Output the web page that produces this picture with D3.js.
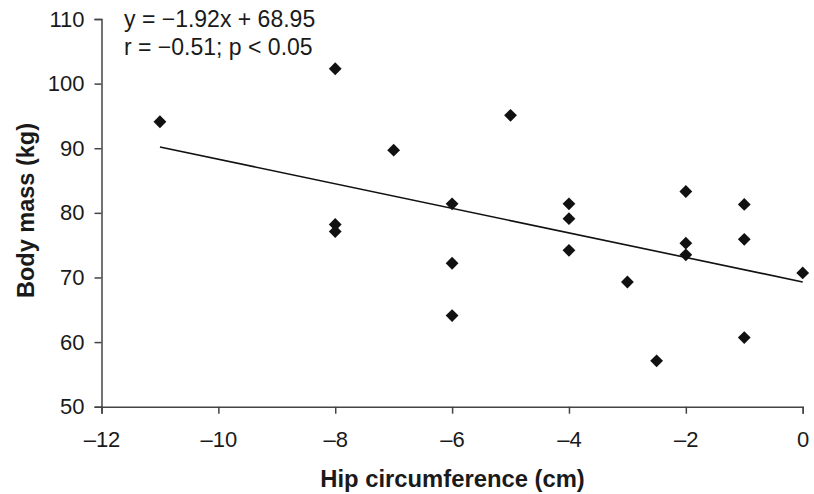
<!DOCTYPE html>
<html>
<head>
<meta charset="utf-8">
<script src="https://cdn.jsdelivr.net/npm/d3@7/dist/d3.min.js"></script>
<style>
  html, body { margin: 0; padding: 0; background: #fff; }
  svg { display: block; }
  text { font-family: "Liberation Sans", Arial, Helvetica, sans-serif; fill: #1a1a1a; }
</style>
</head>
<body>
<script>
// Data
const hipChange = [-11, -8, -8, -8, -7, -6, -6, -6, -5, -4, -4, -4, -3, -2.5, -2, -2, -2, -1, -1, -1, 0];
const bodyMass  = [94.1, 102.3, 78.2, 77.1, 89.7, 81.4, 72.2, 64.1, 95.1, 81.4, 79.1, 74.2, 69.3, 57.1, 83.3, 75.3, 73.5, 81.3, 75.9, 60.7, 70.7];
const trendX = [-11, 0];
const trendY = [90.2, 69.3];
const xTicks = [-12, -10, -8, -6, -4, -2, 0];
const yTicks = [50, 60, 70, 80, 90, 100, 110];
const annotation = ["y = \u22121.92x + 68.95", "r = \u22120.51; p < 0.05"];
const xTitle = "Hip circumference (cm)";
const yTitle = "Body mass (kg)";

const W = 814, H = 494;
const svg = d3.select("body").append("svg").attr("width", W).attr("height", H);

const x = d3.scaleLinear().domain([-12, 0]).range([101.5, 802.7]);
const y = d3.scaleLinear().domain([50, 110]).range([406.7, 19]);

const axisColor = "#444";
const tickFont = "22px";

// X axis
const gx = svg.append("g").attr("transform", `translate(0,${y(50)})`)
  .call(d3.axisBottom(x).tickValues(xTicks).tickSize(7).tickPadding(4)
    .tickFormat(d => d === 0 ? "0" : "\u2013" + Math.abs(d)));
gx.select(".domain").attr("stroke", axisColor).attr("stroke-width", 1.5);
gx.selectAll(".tick line").attr("stroke", axisColor).attr("stroke-width", 1.5);
gx.selectAll(".tick text").attr("font-size", tickFont).attr("fill", "#1a1a1a")
  .style("font-family", "'Liberation Sans', Arial, sans-serif").attr("dy", "0.71em").attr("y", 24.5);

// Y axis
const gy = svg.append("g").attr("transform", `translate(${x(-12)},0)`)
  .call(d3.axisLeft(y).tickValues(yTicks).tickSize(7).tickPadding(10).tickFormat(d3.format("d")));
gy.select(".domain").attr("stroke", axisColor).attr("stroke-width", 1.5);
gy.selectAll(".tick line").attr("stroke", axisColor).attr("stroke-width", 1.5);
gy.selectAll(".tick text").attr("font-size", tickFont).attr("fill", "#1a1a1a")
  .style("font-family", "'Liberation Sans', Arial, sans-serif");

// Trend line
svg.append("path")
  .datum(trendX.map((d, i) => [d, trendY[i]]))
  .attr("d", d3.line().x(d => x(d[0])).y(d => y(d[1])))
  .attr("fill", "none").attr("stroke", "#111").attr("stroke-width", 1.6);

// Points (diamonds)
const diamond = d3.symbol().type(d3.symbolSquare).size(82);
svg.append("g").selectAll("path")
  .data(hipChange.map((d, i) => [d, bodyMass[i]]))
  .join("path")
  .attr("d", diamond)
  .attr("transform", d => `translate(${x(d[0])},${y(d[1])}) rotate(45)`)
  .attr("fill", "#111");

// Annotation
const ann = svg.append("text").attr("font-size", "23px");
annotation.forEach((t, i) => {
  ann.append("tspan").attr("x", 124).attr("y", 26.5 + i * 28.5).text(t);
});

// Axis titles
svg.append("text").attr("x", 452.5).attr("y", 487)
  .attr("text-anchor", "middle").attr("font-size", "23.8px").attr("font-weight", "bold")
  .text(xTitle);

svg.append("text")
  .attr("transform", `translate(34,210.5) rotate(-90)`)
  .attr("text-anchor", "middle").attr("font-size", "23.5px").attr("font-weight", "bold")
  .text(yTitle);
</script>
</body>
</html>
